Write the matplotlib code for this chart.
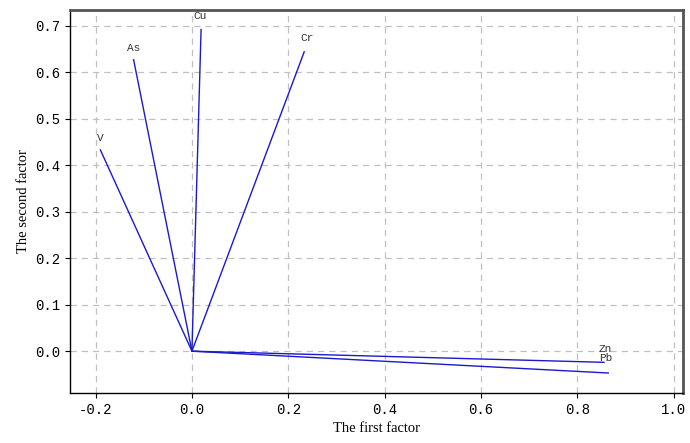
import matplotlib
matplotlib.use('Agg')
import matplotlib.pyplot as plt

# factor loadings
elements = ['V', 'As', 'Cu', 'Cr', 'Zn', 'Pb']
factor1 = [-0.190, -0.121, 0.019, 0.233, 0.855, 0.864]
factor2 = [0.433, 0.627, 0.692, 0.644, -0.024, -0.047]

x_ticks = [-0.2, 0.0, 0.2, 0.4, 0.6, 0.8, 1.0]
y_ticks = [0.0, 0.1, 0.2, 0.3, 0.4, 0.5, 0.6, 0.7]

fig = plt.figure(figsize=(6.9, 4.43), dpi=100)
ax = fig.add_axes([70 / 690, 50 / 443, 613 / 690, 383 / 443])

for name, fx, fy in zip(elements, factor1, factor2):
    ax.plot([0, fx], [0, fy], color='#1a1acc', linewidth=1.0)

# label offsets (in data units) so the names sit above the line ends
offsets = {'V': (0.0, 0.025), 'As': (0.0, 0.025), 'Cu': (-0.002, 0.03),
           'Cr': (0.005, 0.03), 'Zn': (0.003, 0.028), 'Pb': (-0.006, 0.032)}
for name, fx, fy in zip(elements, factor1, factor2):
    dx, dy = offsets[name]
    ax.text(fx + dx, fy + dy, name, fontsize=8, family='Liberation Mono',
            ha='center', va='center', color='#333333')

ax.set_xlim(-0.253, 1.019)
ax.set_ylim(-0.09, 0.734)
ax.set_xticks(x_ticks)
ax.set_yticks(y_ticks)
ax.set_xticklabels(['%.1f' % v for v in x_ticks], family='Liberation Mono', fontsize=10)
ax.set_yticklabels(['%.1f' % v for v in y_ticks], family='Liberation Mono', fontsize=10)
ax.grid(True, linestyle=(0, (5, 4)), color='#c0c0c0', linewidth=0.9)
ax.set_axisbelow(True)

ax.set_xlabel('The first factor', family='Liberation Serif', fontsize=10.5)
ax.set_ylabel('The second factor', family='Liberation Serif', fontsize=10.5)

for side in ['left', 'bottom']:
    ax.spines[side].set_color('black')
    ax.spines[side].set_linewidth(1.0)
for side in ['top', 'right']:
    ax.spines[side].set_color('#555555')
    ax.spines[side].set_linewidth(2.0)

plt.savefig('out.png', dpi=100)
